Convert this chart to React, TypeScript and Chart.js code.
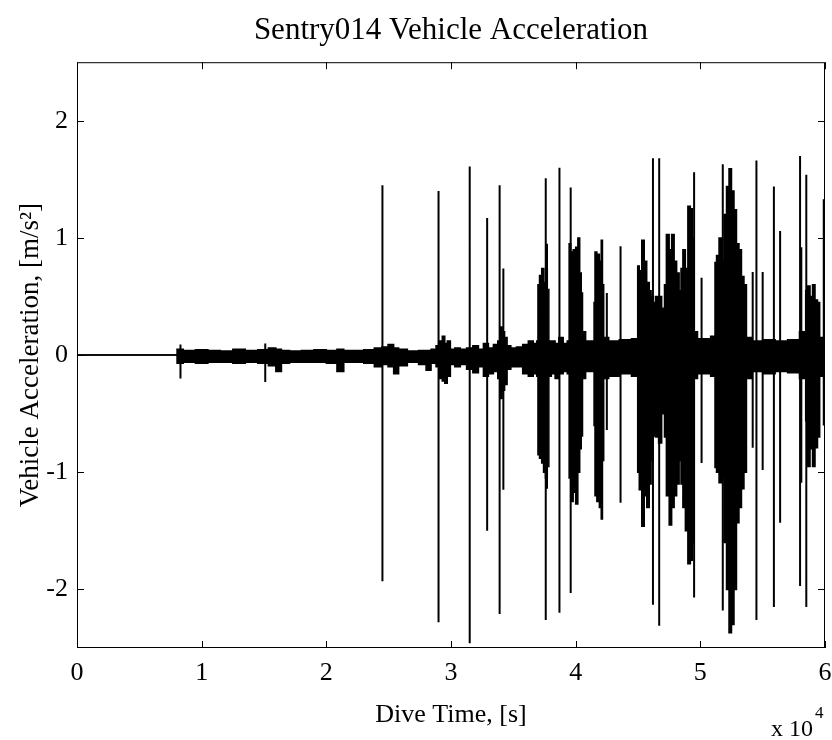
import React, { useEffect, useRef } from "react";
import { Chart, registerables } from "chart.js";

Chart.register(...registerables);

const TITLE = "Sentry014 Vehicle Acceleration";
const X_LABEL = "Dive Time, [s]";
const Y_LABEL = "Vehicle Acceleration, [m/s²]";
const X_TICKS = [0, 1, 2, 3, 4, 5, 6];
const Y_TICKS = [-2, -1, 0, 1, 2];

// Envelope of the dense acceleration signal (time in units of 10^4 s)
const envTime = [
  0, 0.8, 0.805, 0.9, 1.0, 1.1, 1.2, 1.3, 1.4, 1.5, 1.57, 1.62, 1.66, 1.75, 1.85, 1.95,
  2.05, 2.12, 2.16, 2.25, 2.35, 2.42, 2.47, 2.52, 2.56, 2.6, 2.7, 2.78, 2.82, 2.86, 2.9,
  2.92, 2.94, 2.96, 2.98, 3.01, 3.05, 3.1, 3.15, 3.2, 3.24, 3.28, 3.32, 3.36, 3.39, 3.4,
  3.42, 3.44, 3.46, 3.5, 3.55, 3.6, 3.64, 3.68, 3.695, 3.7, 3.72, 3.735, 3.75, 3.765, 3.78,
  3.79, 3.82, 3.85, 3.88, 3.92, 3.945, 3.95, 3.97, 3.99, 4.01, 4.025, 4.04, 4.05, 4.06, 4.1,
  4.145, 4.15, 4.16, 4.18, 4.2, 4.21, 4.22, 4.23, 4.3, 4.4, 4.495, 4.5, 4.52, 4.54, 4.56,
  4.58, 4.6, 4.61, 4.63, 4.65, 4.68, 4.7, 4.71, 4.715, 4.74, 4.76, 4.78, 4.8, 4.82, 4.84,
  4.85, 4.87, 4.89, 4.91, 4.93, 4.94, 4.955, 5.0, 5.05, 5.115, 5.12, 5.14, 5.16, 5.18, 5.2,
  5.22, 5.24, 5.26, 5.28, 5.3, 5.32, 5.34, 5.36, 5.38, 5.45, 5.55, 5.65, 5.75, 5.84, 5.85,
  5.87, 5.89, 5.91, 5.93, 5.95, 5.965, 6.0,
];
const envUpper = [
  0, 0, 0.05, 0.04, 0.045, 0.04, 0.035, 0.05, 0.04, 0.045, 0.06, 0.05, 0.04, 0.035, 0.04, 0.045,
  0.04, 0.05, 0.04, 0.04, 0.045, 0.06, 0.07, 0.09, 0.06, 0.05, 0.035, 0.04, 0.04, 0.05, 0.08,
  0.12, 0.16, 0.1, 0.12, 0.05, 0.06, 0.05, 0.06, 0.08, 0.05, 0.1, 0.06, 0.09, 0.12, 0.24,
  0.2, 0.15, 0.08, 0.06, 0.07, 0.09, 0.12, 0.1, 0.12, 0.6, 0.68, 0.74, 0.62, 0.74, 0.56,
  0.12, 0.12, 0.1, 0.15, 0.1, 0.12, 0.95, 0.88, 0.9, 0.92, 1.0, 0.7, 0.53, 0.2, 0.12,
  0.12, 0.45, 0.88, 0.86, 0.8, 0.98, 0.6, 0.15, 0.12, 0.13, 0.14, 0.76, 0.72, 0.98, 0.8,
  0.62, 0.55, 0.5, 0.45, 0.5, 0.5, 0.4, 0.15, 0.6, 1.03, 0.9, 1.03, 0.8, 0.7, 0.55,
  0.74, 0.9, 0.74, 1.27, 1.25, 1.0, 0.2, 0.14, 0.14, 0.16, 0.79, 0.85, 1.0, 0.8, 1.2,
  1.44, 1.59, 1.4, 1.24, 0.95, 0.9, 0.67, 0.6, 0.15, 0.12, 0.13, 0.12, 0.13, 0.2, 0.55,
  0.59, 0.5, 0.6, 0.47, 0.45, 0.15, 0.13,
];
const envLower = [
  0, 0, -0.07, -0.06, -0.07, -0.06, -0.06, -0.07, -0.06, -0.07, -0.09, -0.14, -0.07, -0.06, -0.06, -0.06,
  -0.07, -0.14, -0.06, -0.06, -0.07, -0.1, -0.08, -0.1, -0.16, -0.09, -0.06, -0.08, -0.13, -0.07, -0.1,
  -0.2, -0.22, -0.24, -0.18, -0.08, -0.1, -0.08, -0.12, -0.15, -0.1, -0.18, -0.16, -0.14, -0.2, -0.37,
  -0.3, -0.25, -0.12, -0.1, -0.1, -0.16, -0.18, -0.16, -0.18, -0.85, -0.88, -0.92, -1.0, -1.05, -0.95,
  -0.18, -0.16, -0.2, -0.16, -0.14, -0.16, -1.05, -1.25, -1.17, -1.27, -1.0, -0.8, -0.69, -0.2, -0.14,
  -0.14, -0.6, -1.2, -1.25, -1.3, -1.4, -0.9, -0.2, -0.18, -0.16, -0.18, -1.0, -1.15, -1.46, -1.2,
  -1.3, -1.1, -0.9, -0.69, -0.7, -0.75, -0.5, -0.18, -0.7, -1.2, -1.45, -1.3, -1.2, -1.1, -0.9,
  -1.1, -1.3, -1.5, -1.78, -1.75, -1.6, -0.2, -0.16, -0.16, -0.18, -0.96, -1.0, -1.09, -1.05, -1.6,
  -2.0, -2.37, -2.3, -2.0, -1.43, -1.3, -1.14, -1.0, -0.2, -0.14, -0.16, -0.14, -0.15, -0.2, -0.56,
  -0.95, -0.8, -0.95, -0.79, -0.7, -0.18, -0.16,
];

// Isolated spikes
const spikeTime = [
  0.83, 1.51, 2.45, 2.9, 3.15, 3.29, 3.39, 3.42, 3.76, 3.77, 3.87, 3.96, 4.25, 4.36, 4.62,
  4.67, 4.95, 5.01, 5.18, 5.42, 5.45, 5.5, 5.59, 5.64, 5.8, 5.81, 5.85, 5.99,
];
const spikeHigh = [
  0.09, 0.1, 1.45, 1.4, 1.61, 1.17, 1.45, 0.74, 1.51, 0.95, 1.6, 1.43, 0.53, 0.93, 1.68,
  1.68, 1.56, 0.66, 1.63, 0.71, 1.66, 0.71, 1.44, 1.06, 1.7, 0.92, 1.54, 1.33,
];
const spikeLow = [
  -0.2, -0.23, -1.93, -2.28, -2.46, -1.5, -2.21, -1.15, -2.26, -1.14, -2.2, -2.03, -0.64, -1.26, -2.13,
  -2.31, -2.07, -0.92, -2.18, -0.79, -2.26, -0.98, -2.15, -1.43, -1.97, -1.09, -2.15, -0.6,
];

const FONT = '"Liberation Serif", "DejaVu Serif", serif';

const framePlugin = {
  id: "frame",
  afterDatasetsDraw(chart: any) {
    const { ctx, chartArea, scales } = chart;
    const { left, right, top, bottom } = chartArea;
    const x = scales.x;
    const y = scales.y;
    ctx.save();
    ctx.strokeStyle = "#000";
    ctx.lineWidth = 1;
    ctx.strokeRect(left + 0.5, top + 0.5, right - left - 1, bottom - top - 1);
    const L = 7;
    ctx.beginPath();
    X_TICKS.forEach((v) => {
      const px = Math.round(x.getPixelForValue(v)) + 0.5;
      ctx.moveTo(px, bottom);
      ctx.lineTo(px, bottom - L);
      ctx.moveTo(px, top);
      ctx.lineTo(px, top + L);
    });
    Y_TICKS.forEach((v) => {
      const py = Math.round(y.getPixelForValue(v)) + 0.5;
      ctx.moveTo(left, py);
      ctx.lineTo(left + L, py);
      ctx.moveTo(right, py);
      ctx.lineTo(right - L, py);
    });
    ctx.stroke();
    // exponent label "x 10^4"
    ctx.fillStyle = "#000";
    ctx.textAlign = "left";
    ctx.textBaseline = "alphabetic";
    ctx.font = `24px ${FONT}`;
    const base = "x 10";
    const bx = 771;
    ctx.fillText(base, bx, 736);
    const w = ctx.measureText(base).width;
    ctx.font = `17px ${FONT}`;
    ctx.fillText("4", bx + w + 2, 718);
    ctx.restore();
  },
};

export default function App() {
  const ref = useRef<HTMLCanvasElement | null>(null);

  useEffect(() => {
    if (!ref.current) return;
    const upper = envTime.map((t, i) => ({ x: t, y: envUpper[i] }));
    const lower = envTime.map((t, i) => ({ x: t, y: envLower[i] }));
    const spikes: any[] = [];
    spikeTime.forEach((t, i) => {
      spikes.push({ x: t, y: spikeHigh[i] });
      spikes.push({ x: t, y: spikeLow[i] });
      spikes.push({ x: t, y: null });
    });

    const chart = new Chart(ref.current, {
      type: "line",
      data: {
        datasets: [
          {
            data: upper,
            borderColor: "#000",
            backgroundColor: "#000",
            borderWidth: 1.5,
            pointRadius: 0,
            fill: "+1",
            stepped: "middle",
          },
          {
            data: lower,
            borderColor: "#000",
            backgroundColor: "#000",
            borderWidth: 1.5,
            pointRadius: 0,
            fill: false,
            stepped: "middle",
          },
          {
            data: spikes,
            borderColor: "#000",
            borderWidth: 2,
            pointRadius: 0,
            fill: false,
            spanGaps: false,
            tension: 0,
          },
        ],
      },
      options: {
        animation: false,
        responsive: false,
        events: [],
        layout: { padding: { left: 0, right: 7, top: 0, bottom: 0 } },
        plugins: {
          legend: { display: false },
          tooltip: { enabled: false },
          title: {
            display: true,
            fullSize: false,
            text: TITLE,
            color: "#000",
            font: { family: FONT, size: 31, weight: "normal", lineHeight: 1.2 },
            padding: { top: 12, bottom: 13 },
          },
        },
        scales: {
          x: {
            type: "linear",
            min: 0,
            max: 6,
            afterBuildTicks: (s: any) => {
              s.ticks = X_TICKS.map((v) => ({ value: v }));
            },
            afterFit: (s: any) => {
              s.height = 92;
              s.paddingLeft = 0;
              s.paddingRight = 0;
            },
            grid: { display: false, drawTicks: false },
            border: { display: false },
            ticks: {
              color: "#000",
              padding: 10,
              font: { family: FONT, size: 26 },
              callback: (v: any) => String(v),
            },
            title: {
              display: true,
              text: X_LABEL,
              color: "#000",
              font: { family: FONT, size: 26 },
              padding: { top: 0, bottom: 9 },
            },
          },
          y: {
            type: "linear",
            min: -2.5,
            max: 2.5,
            afterBuildTicks: (s: any) => {
              s.ticks = Y_TICKS.map((v) => ({ value: v }));
            },
            afterFit: (s: any) => {
              s.width = 77;
              s.paddingTop = 0;
              s.paddingBottom = 0;
            },
            grid: { display: false, drawTicks: false },
            border: { display: false },
            ticks: {
              color: "#000",
              padding: 9,
              font: { family: FONT, size: 26 },
              callback: (v: any) => String(v),
            },
            title: {
              display: true,
              text: Y_LABEL,
              color: "#000",
              font: { family: FONT, size: 27 },
              padding: { top: 15, bottom: 0 },
            },
          },
        },
      },
      plugins: [framePlugin],
    } as any);
    return () => chart.destroy();
  }, []);

  return (
    <div style={{ position: "absolute", left: 0, top: 0, width: 832, height: 740, background: "#fff" }}>
      <canvas ref={ref} width={832} height={740} style={{ display: "block" }} />
    </div>
  );
}
